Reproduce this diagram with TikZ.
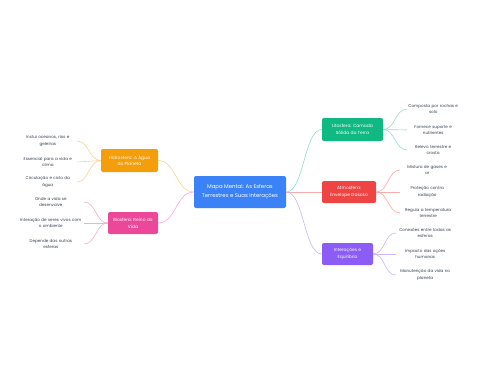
\documentclass[tikz,border=0pt]{standalone}
\usepackage{fontspec}
\setmainfont{Poppins}
\definecolor{cblue}{HTML}{3B82F6}
\definecolor{camber}{HTML}{F59E0B}
\definecolor{cpink}{HTML}{EC4899}
\definecolor{cgreen}{HTML}{10B981}
\definecolor{cred}{HTML}{EF4444}
\definecolor{cpurple}{HTML}{8B5CF6}
\definecolor{ctext}{HTML}{374151}
\begin{document}
\begin{tikzpicture}[x=1pt,y=-1pt,
  box/.style={rounded corners=2pt, text=white, align=center, inner sep=0pt, font=\fontsize{4.4}{6.8}\selectfont},
  leaf/.style={align=center, text=ctext, inner sep=0pt, font=\fontsize{4.1}{6.8}\selectfont},
  link/.style={line width=0.6pt}]
\useasboundingbox[fill=white] (0,0) rectangle (480,384);
% central
\node[box, fill=cblue, minimum width=92pt, minimum height=32pt, font=\fontsize{5.4}{9}\selectfont] (c) at (240,192) {Mapa Mental: As Esferas\\Terrestres e Suas Interações};
% branches
\node[box, fill=camber, minimum width=57pt, minimum height=23pt] (h) at (129.5,160.5) {Hidrosfera: A Água\\do Planeta};
\node[box, fill=cpink, minimum width=50pt, minimum height=22pt] (b) at (133,223) {Biosfera: Reino da\\Vida};
\node[box, fill=cgreen, minimum width=61pt, minimum height=23pt] (l) at (352.5,129.5) {Litosfera: Camada\\Sólida da Terra};
\node[box, fill=cred, minimum width=54pt, minimum height=22pt] (a) at (349,192) {Atmosfera:\\Envelope Gasoso};
\node[box, fill=cpurple, minimum width=51pt, minimum height=22pt] (i) at (347.5,254) {Interações e\\Equilíbrio};
% leaves left
\node[leaf, text width=58pt, anchor=east] (h1) at (77,141) {Inclui oceanos, rios e\\geleiras};
\node[leaf, text width=58pt, anchor=east] (h2) at (77,162) {Essencial para a vida e\\clima};
\node[leaf, text width=58pt, anchor=east] (h3) at (77,182) {Circulação e ciclo da\\água};
\node[leaf, text width=66pt, anchor=east] (b1) at (84,202) {Onde a vida se\\desenvolve};
\node[leaf, text width=66pt, anchor=east] (b2) at (84,223) {Interação de seres vivos com\\o ambiente};
\node[leaf, text width=66pt, anchor=east] (b3) at (84,244) {Depende das outras\\esferas};
% leaves right
\node[leaf, text width=52pt, anchor=west] (l1) at (407,109) {Composta por rochas e\\solo};
\node[leaf, text width=52pt, anchor=west] (l2) at (407,130) {Fornece suporte e\\nutrientes};
\node[leaf, text width=52pt, anchor=west] (l3) at (407,150) {Relevo terrestre e\\crosta};
\node[leaf, text width=54pt, anchor=west] (a1) at (400,170) {Mistura de gases e\\ar};
\node[leaf, text width=54pt, anchor=west] (a2) at (400,192) {Proteção contra\\radiação};
\node[leaf, text width=56pt, anchor=west] (a3) at (400,213) {Regula a temperatura\\terrestre};
\node[leaf, text width=58pt, anchor=west] (i1) at (396,233) {Conexões entre todas as\\esferas};
\node[leaf, text width=58pt, anchor=west] (i2) at (396,254) {Impacto das ações\\humanas};
\node[leaf, text width=58pt, anchor=west] (i3) at (396,275) {Manutenção da vida no\\planeta};
% central links
\draw[link, camber!45] (c.west) .. controls +(-18,0) and +(18,0) .. (h.east);
\draw[link, cpink!45] (c.west) .. controls +(-18,0) and +(18,0) .. (b.east);
\draw[link, cgreen!45] (c.east) .. controls +(18,0) and +(-18,0) .. (l.west);
\draw[link, cred!45] (c.east) .. controls +(18,0) and +(-18,0) .. (a.west);
\draw[link, cpurple!45] (c.east) .. controls +(18,0) and +(-18,0) .. (i.west);
% leaf links
\foreach \n in {h1,h2,h3}{\draw[link, camber!45] (h.west) .. controls +(-12,0) and +(12,0) .. (\n.east);}
\foreach \n in {b1,b2,b3}{\draw[link, cpink!45] (b.west) .. controls +(-12,0) and +(12,0) .. (\n.east);}
\foreach \n in {l1,l2,l3}{\draw[link, cgreen!45] (l.east) .. controls +(12,0) and +(-12,0) .. (\n.west);}
\foreach \n in {a1,a2,a3}{\draw[link, cred!45] (a.east) .. controls +(12,0) and +(-12,0) .. (\n.west);}
\foreach \n in {i1,i2,i3}{\draw[link, cpurple!45] (i.east) .. controls +(12,0) and +(-12,0) .. (\n.west);}
\end{tikzpicture}
\end{document}
